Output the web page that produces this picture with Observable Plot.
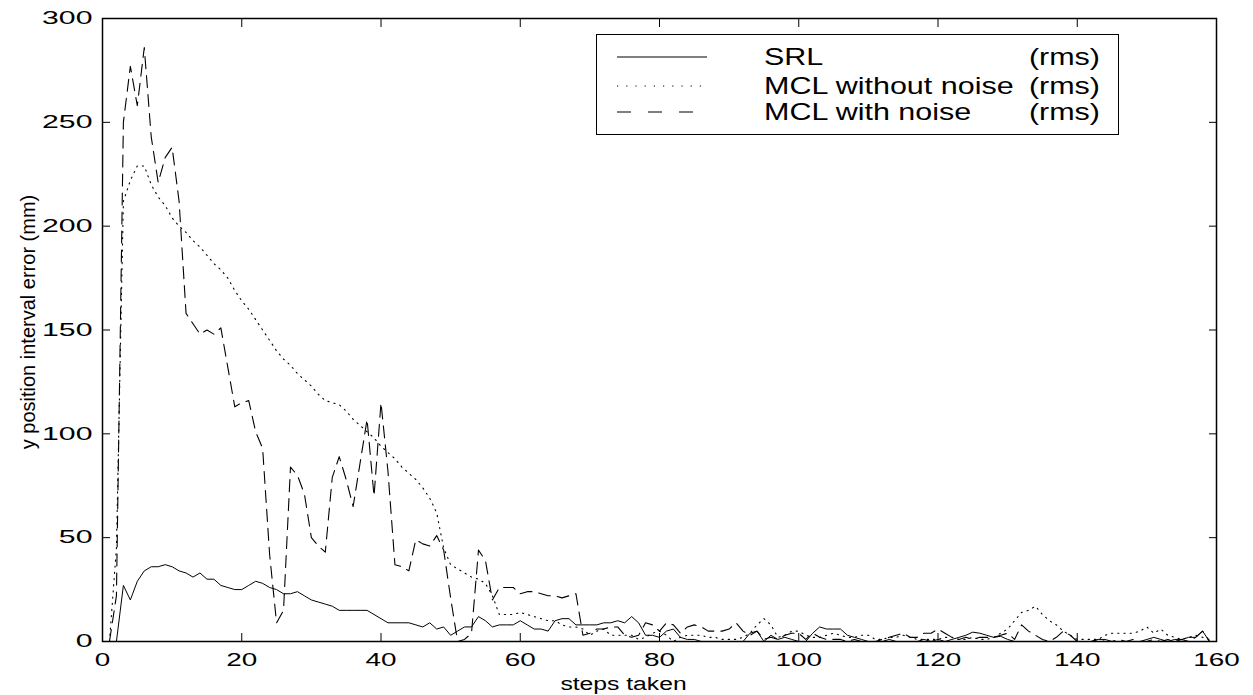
<!DOCTYPE html>
<html><head><meta charset="utf-8">
<script src="https://cdn.jsdelivr.net/npm/d3@7"></script>
<script src="https://cdn.jsdelivr.net/npm/@observablehq/plot@0.6"></script>
<style>
body{margin:0;background:#fff;}
#wrap{position:relative;width:1253px;height:695px;overflow:hidden;}
#legend{position:absolute;left:596px;top:34px;width:523px;height:101px;border:1.5px solid #000;box-sizing:border-box;background:#fff;font-family:"Liberation Sans",Arial,sans-serif;font-size:24px;color:#000;}
.row{position:absolute;left:0;width:100%;height:28px;}
.row svg{position:absolute;left:20px;top:0;}
.lab{position:absolute;left:167px;top:0;line-height:28px;transform:scaleX(1.27);transform-origin:left center;white-space:pre;}
.rms{position:absolute;right:18px;top:0;line-height:28px;transform:scaleX(1.27);transform-origin:right center;white-space:pre;}
</style>
</head><body>
<div id="wrap"><div id="chart"></div><div id="legend"></div></div>
<script>
// ---- data (steps 1..159) ----
const srl = [0,0,27,20,29,34,36,36,37,36, 34,33,31,33,30,30,27,26,25,25,
  27,29,28,26,25,23,23,24,22,20, 19,18,17,15,15,15,15,15,13,11,
  9,9,9,9,8,7,9,6,7,3, 5,7,7,12,10,7,8,8,8,10,
  8,6,6,5,10,11,11,8,8,8, 8,9,9,10,9,12,9,3,3,2,
  5,6,2,1,1,0,0,0,0,0, 0,0,4,5,0,3,1,2,1,0,
  0,4,7,6,6,6,3,2,1,0, 0,0,1,0,0,0,0,1,0,1,
  0,1,2,3,4.5,4,3,2,2.5,1, 0,0,0,0,0,0,0,0,0,0,
  0,0,1,1,0,0,0,0,0,1, 2,1,0,1,1,2,2,5,0];
const mclNoNoise = [0,45,212,222,229,229,220,214,210,204, 200,197,193,190,186,182,179,175,169,164,
  160,155,150,145,140,136,133,129,126,123, 119,116,115,114,111,107,104,101,98,94,
  91,88,84,81,78,74,69,62,45,37, 35,33,31,30,28,22,13,13,13,14,
  13,12,11,10,10,8,7,7,6,3, 5,6,3,3,3,3,1,2,4,5,
  3,0,2,3,3,3,2,2,1,1, 1,2,4,8,11,8,2,3,5,5,
  3,2,2,3,4,3,2,2,3,3, 1,1,2,2,3,2,1,1,1,1,
  2,2,1,1,2,1,1,2,4,6, 10,14,15,17,13,10,8,5,3,1,
  1,1,1,3,4,4,4,4,5,7, 4,6,3,2,1,2,3,2,1];
const mclNoise = [0,22,250,277,258,286,243,221,233,238, 212,158,153,148,150,148,151,132,113,115,
  116,101,93,42,9,15,84,80,71,50, 46,43,79,89,78,65,86,107,70,115,
  82,37,36,34,49,47,46,51,44,21, 0,1,4,44,39,20,26,26,26,23,
  24,24,23,22,22,21,22,23,3,4, 6,6,7,7,3,2,3,9,8,5,
  9,8,4,7,8,7,5,5,5,6, 9,5,3,5,1,2,1,3,4,4,
  1,4,2,1,1,1,0,1,0,0, 0,1,2,3,4,2,2,4,4,6,
  4,2,1,2,1,2,2,2,3,4, 1,8,5,3,1,0,2,5,3,0,
  0,0,1,0,0,1,0,1,0,0, 1,0,1,0,1,0,2,5,0];
const xTicks = [0,20,40,60,80,100,120,140,160];
const yTicks = [0,50,100,150,200,250,300];
const seriesNames = ["SRL", "MCL without noise", "MCL with noise"];
const seriesUnit = "(rms)";
const xLabel = "steps taken";
const yLabel = "y position interval error (mm)";

const rows = srl.map((v, i) => ({step: i + 1, srl: v, mclNo: mclNoNoise[i], mclN: mclNoise[i]}));
const dashes = ["none", "1.2,5", "12,7"];

const chart = Plot.plot({
  width: 1253, height: 695,
  marginLeft: 102, marginRight: 37, marginTop: 18, marginBottom: 54,
  style: {fontFamily: "'Liberation Sans', Arial, sans-serif", fontSize: "18px", background: "white", color: "black"},
  x: {domain: [0, 160]},
  y: {domain: [0, 300]},
  marks: [
    Plot.lineY(rows, {x: "step", y: "srl", stroke: "black", strokeWidth: 1}),
    Plot.lineY(rows, {x: "step", y: "mclNo", stroke: "black", strokeWidth: 1.1, strokeDasharray: dashes[1]}),
    Plot.lineY(rows, {x: "step", y: "mclN", stroke: "black", strokeWidth: 1.1, strokeDasharray: dashes[2]}),
    Plot.frame({stroke: "black", strokeWidth: 1.5}),
    Plot.axisX(xTicks, {anchor: "bottom", tickSize: -8, tickPadding: 20, fontSize: 18, label: null}),
    Plot.axisX({anchor: "bottom", ticks: [], label: xLabel, labelAnchor: "center", labelArrow: "none", labelOffset: 48, fontSize: 19}),
    Plot.axisX(xTicks, {anchor: "top", tickSize: -8, tickFormat: () => "", label: null}),
    Plot.axisY(yTicks, {anchor: "left", tickSize: -8, tickPadding: 18, fontSize: 18, label: null}),
    Plot.axisY({anchor: "left", ticks: [], label: yLabel, labelAnchor: "center", labelArrow: "none", labelOffset: 82, fontSize: 20}),
    Plot.axisY(yTicks, {anchor: "right", tickSize: -8, tickFormat: () => "", label: null})
  ]
});
document.getElementById("chart").appendChild(chart);

// widen horizontal text as in the reference
function stretch(sel, s, shift = 0) {
  chart.querySelectorAll(sel).forEach(t => {
    const bb = t.getBBox();
    const anchor = getComputedStyle(t).textAnchor;
    const ax = anchor === "middle" ? bb.x + bb.width / 2 : anchor === "end" ? bb.x + bb.width : bb.x;
    const tr = t.getAttribute("transform") || "";
    t.setAttribute("transform", `${tr} translate(${ax + shift},0) scale(${s},1) translate(${-ax},0)`);
  });
}
stretch('g[aria-label="x-axis tick label"] text', 1.55);
stretch('g[aria-label="y-axis tick label"] text', 1.68);
stretch('g[aria-label="x-axis label"] text', 1.3, -36);
stretch('g[aria-label="y-axis label"] text', 1, 8);

// legend
const legend = document.getElementById("legend");
const rowTops = [8, 37, 63];
seriesNames.forEach((name, i) => {
  const r = document.createElement("div");
  r.className = "row";
  r.style.top = rowTops[i] + "px";
  r.innerHTML = `<svg width="92" height="28"><line x1="0" x2="90" y1="14" y2="14" stroke="black" stroke-width="1.1" ${dashes[i] === "none" ? "" : `stroke-dasharray="${i === 1 ? "1.2,8" : "14,17"}"`}/></svg>`;
  const lab = document.createElement("span");
  lab.className = "lab"; lab.textContent = name;
  const rms = document.createElement("span");
  rms.className = "rms"; rms.textContent = seriesUnit;
  r.appendChild(lab); r.appendChild(rms);
  legend.appendChild(r);
});
</script>
</body></html>
